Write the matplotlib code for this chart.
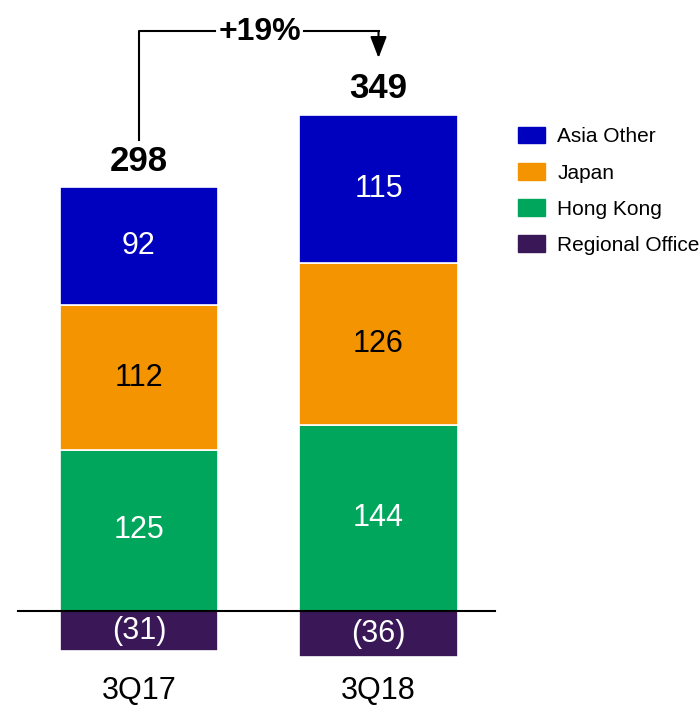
import numpy as np
import matplotlib.pyplot as plt
from matplotlib.patches import Patch

# data
quarters = ["3Q17", "3Q18"]
hong_kong = [125, 144]
japan = [112, 126]
asia_other = [92, 115]
regional = [-31, -36]
totals = [298, 349]
growth = "+19%"

colors = {
    "Asia Other": "#0000BF",
    "Japan": "#F39400",
    "Hong Kong": "#00A65B",
    "Regional Office": "#3A1858",
}

plt.rcParams['font.family'] = ['Liberation Sans', 'DejaVu Sans']

fig = plt.figure(figsize=(7, 7.11), dpi=100)
ax = fig.add_axes([0, 0, 1, 1])
ax.set_xlim(-0.580, 2.342)
ax.set_ylim(-77.6, 474.0)
ax.axis("off")

x = np.arange(len(quarters))
w = 0.66

hk = np.array(hong_kong)
jp = np.array(japan)
ao = np.array(asia_other)
ro = np.array(regional)

kw = dict(width=w, edgecolor="white", linewidth=1.2)
ax.bar(x, ro, color=colors["Regional Office"], **kw)
ax.bar(x, hk, color=colors["Hong Kong"], **kw)
ax.bar(x, jp, bottom=hk, color=colors["Japan"], **kw)
ax.bar(x, ao, bottom=hk + jp, color=colors["Asia Other"], **kw)

ax.plot([-0.505, 1.486], [0, 0], color="black", lw=1.5)

for i in range(len(x)):
    ax.text(x[i], hk[i] / 2, str(hk[i]), ha="center", va="center", color="white", fontsize=22)
    ax.text(x[i], hk[i] + jp[i] / 2, str(jp[i]), ha="center", va="center", color="black", fontsize=22)
    ax.text(x[i], hk[i] + jp[i] + ao[i] / 2, str(ao[i]), ha="center", va="center", color="white", fontsize=22)
    ax.text(x[i], ro[i] / 2, "(%d)" % abs(ro[i]), ha="center", va="center", color="white", fontsize=22)
    top = hk[i] + jp[i] + ao[i]
    ax.text(x[i], top + 20, str(totals[i]), ha="center", va="center", color="black",
            fontsize=25, fontweight="bold")
    ax.text(x[i], -62, quarters[i], ha="center", va="center", color="black", fontsize=22)

# growth bracket
top0 = hk[0] + jp[0] + ao[0]
top1 = hk[1] + jp[1] + ao[1]
ybr = 450
ax.plot([x[0], x[0], 0.318], [top0 + 36, ybr, ybr], color="black", lw=1.5)
ax.plot([0.69, x[1]], [ybr, ybr], color="black", lw=1.5)
ax.annotate("", xy=(x[1], top1 + 44), xytext=(x[1], ybr),
            arrowprops=dict(arrowstyle="-|>,head_width=0.5,head_length=1.3", color="black",
                            lw=1.5, shrinkA=0, shrinkB=0))
ax.text((0.318 + 0.69) / 2, ybr - 1, growth, ha="center", va="center", fontsize=23, fontweight="bold")

handles = [Patch(facecolor=colors[k], edgecolor=colors[k]) for k in colors]
ax.legend(handles, list(colors.keys()), loc="upper left", bbox_to_anchor=(0.74, 0.822),
          frameon=False, fontsize=15, handlelength=1.3, handleheight=0.87,
          handletextpad=0.58, labelspacing=0.8, borderaxespad=0, borderpad=0)

fig.savefig("out.png", dpi=100)
